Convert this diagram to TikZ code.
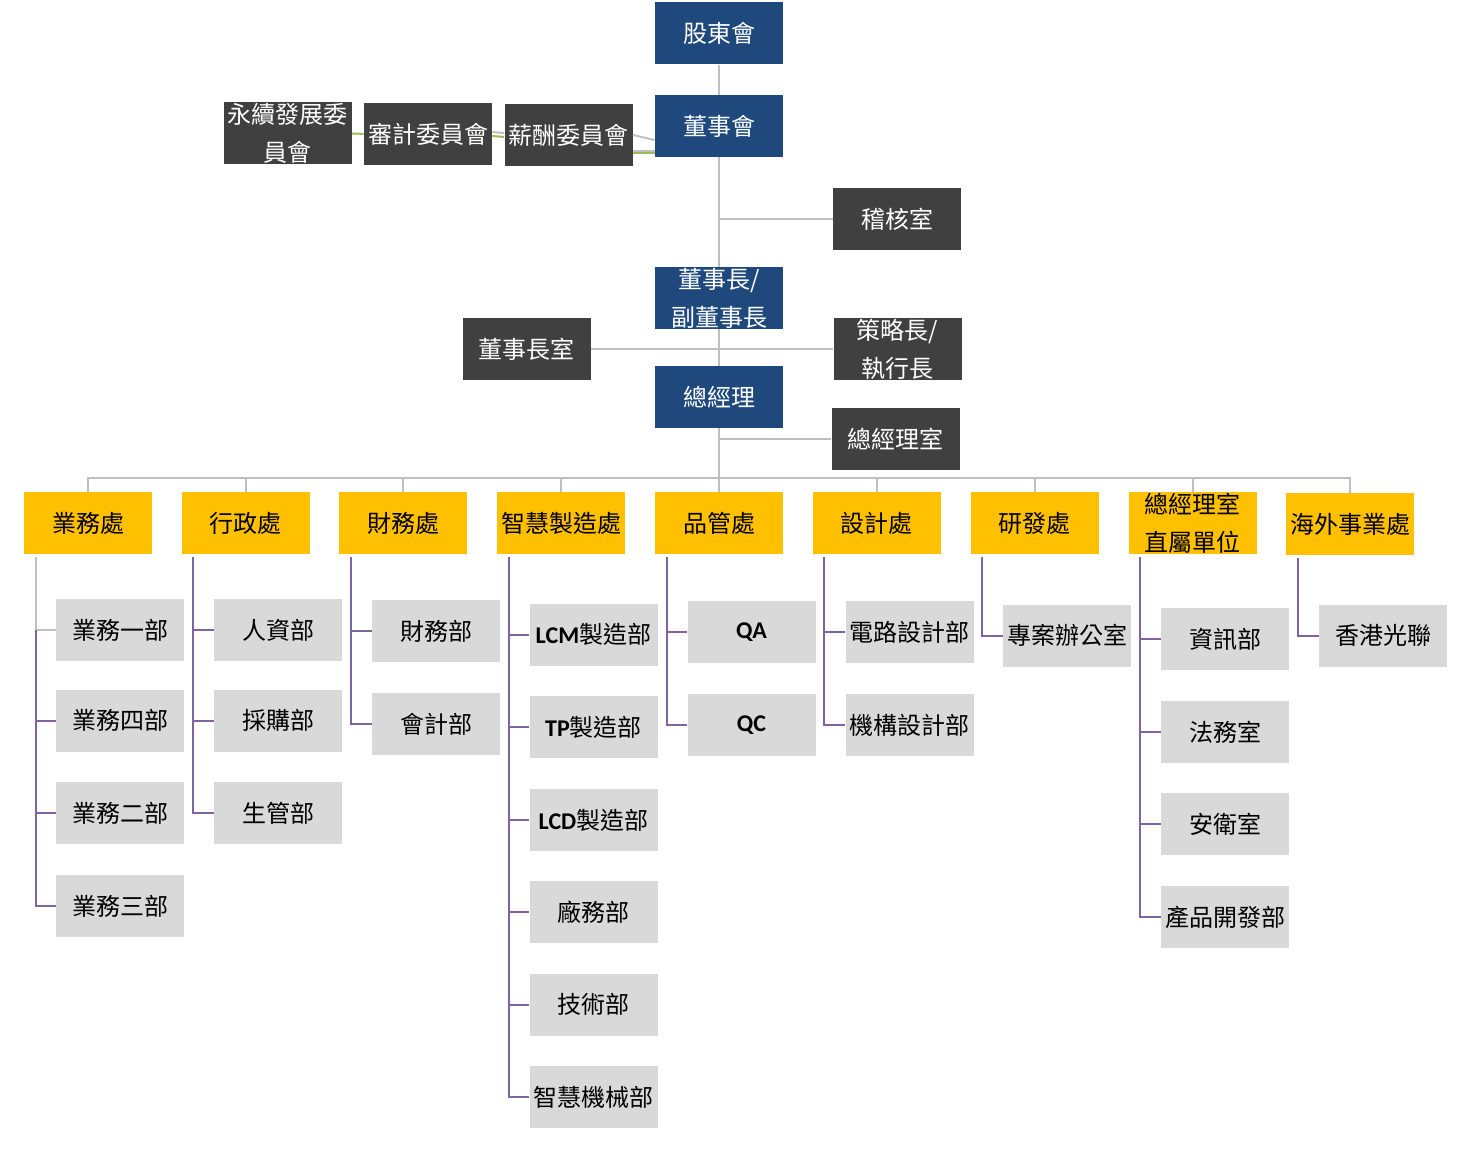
\documentclass[tikz,border=0pt]{standalone}
\usepackage{fontspec}
\setmainfont{Noto Sans CJK TC}
\newfontfamily\calib{Carlito}
\definecolor{topblue}{HTML}{1F497D}
\definecolor{darkbox}{HTML}{404040}
\definecolor{headyellow}{HTML}{FFC000}
\definecolor{unitgray}{HTML}{D9D9D9}
\definecolor{linegray}{HTML}{BFBFBF}
\definecolor{subpurple}{HTML}{8064A2}
\definecolor{commgreen}{HTML}{9BBB59}
\begin{document}
\begin{tikzpicture}[x=0.5pt,y=-0.5pt,
	box/.style={minimum width=64pt,minimum height=31pt,inner sep=0pt,align=center,font=\fontsize{12}{19}\selectfont},
	top/.style={box,fill=topblue,text=white},
	side/.style={box,fill=darkbox,text=white},
	head/.style={box,fill=headyellow},
	unit/.style={box,fill=unitgray},
	link/.style={draw=linegray,line width=1pt},
	sub/.style={draw=subpurple,line width=1pt},
	comm/.style={draw=commgreen,line width=1pt}]
	\useasboundingbox (0,0) rectangle (1477,1149);
	% board and management
	\node[top] (gdh) at (719,33.5) {股東會};
	\node[top] (dsh) at (719,126) {董事會};
	\node[top] (dsz) at (719,298) {董事長/\\副董事長};
	\node[top] (zjl) at (719,397) {總經理};
	\node[side] (yx) at (287.5,133.5) {永續發展委\\員會};
	\node[side] (sjw) at (428,134) {審計委員會};
	\node[side] (xcw) at (568.5,135) {薪酬委員會};
	\node[side] (jhs) at (897,219) {稽核室};
	\node[side] (dszs) at (526.5,349) {董事長室};
	\node[side] (clz) at (897.5,349) {策略長/\\執行長};
	\node[side] (zjls) at (895.5,439) {總經理室};
	% divisions
	\node[head] (yw) at (88,523) {業務處};
	\node[head] (xz) at (245.5,523) {行政處};
	\node[head] (cw) at (403,523) {財務處};
	\node[head] (zh) at (561,523) {智慧製造處};
	\node[head] (pg) at (719,523) {品管處};
	\node[head] (sjc) at (876.5,523) {設計處};
	\node[head] (yf) at (1034.5,523) {研發處};
	\node[head] (zs) at (1192.5,523) {總經理室\\直屬單位};
	\node[head] (hw) at (1350,524) {海外事業處};
	% departments
	\node[unit] (yw1) at (120,630) {業務一部};
	\node[unit] (yw4) at (120,720.5) {業務四部};
	\node[unit] (yw2) at (120,813) {業務二部};
	\node[unit] (yw3) at (120,906) {業務三部};
	\node[unit] (xz1) at (278,630) {人資部};
	\node[unit] (xz2) at (278,720.5) {採購部};
	\node[unit] (xz3) at (278,813) {生管部};
	\node[unit] (cw1) at (436,631) {財務部};
	\node[unit] (cw2) at (436,724) {會計部};
	\node[unit] (zh1) at (593.5,634.5) {{\calib\bfseries LCM}製造部};
	\node[unit] (zh2) at (593.5,727) {{\calib\bfseries TP}製造部};
	\node[unit] (zh3) at (593.5,820) {{\calib\bfseries LCD}製造部};
	\node[unit] (zh4) at (593.5,912) {廠務部};
	\node[unit] (zh5) at (593.5,1004.5) {技術部};
	\node[unit] (zh6) at (593.5,1097) {智慧機械部};
	\node[unit] (pg1) at (751.5,632) {\calib\bfseries QA};
	\node[unit] (pg2) at (751.5,725) {\calib\bfseries QC};
	\node[unit] (sjc1) at (909.5,632) {電路設計部};
	\node[unit] (sjc2) at (909.5,725) {機構設計部};
	\node[unit] (yf1) at (1067,635.5) {專案辦公室};
	\node[unit] (zs1) at (1225,639) {資訊部};
	\node[unit] (zs2) at (1225,732) {法務室};
	\node[unit] (zs3) at (1225,824) {安衛室};
	\node[unit] (zs4) at (1225,917) {產品開發部};
	\node[unit] (hw1) at (1383,635.5) {香港光聯};
	% committees
	\draw[comm] (yx) -- (sjw);
	\draw[link] ([yshift=1pt]sjw.east) -- ([yshift=1pt]xcw.west);
	\draw[comm] ([yshift=-1pt]sjw.east) -- ([yshift=-1pt]xcw.west);
	\draw[link] (xcw.east) -- ([yshift=-7pt]dsh.west);
	\draw[link] ([yshift=-8pt]xcw.east) -- ([yshift=-12.5pt]dsh.west);
	\draw[comm] ([yshift=-9pt]xcw.east) -- ([yshift=-13.5pt]dsh.west);
	% main line
	\draw[link] (gdh) -- (dsh);
	\draw[link] (dsh) -- (dsz);
	\draw[link] (jhs.west) -- (jhs.west -| dsh.south);
	\draw[link] (dsz) -- (zjl);
	\draw[link] (dszs) -- (clz);
	\draw[link] (zjls.west) -- (zjls.west -| zjl.south);
	\coordinate (bus) at (719,478);
	\draw[link] (zjl) -- (bus);
	\foreach \h in {yw,xz,cw,zh,pg,sjc,yf,zs,hw}
		\draw[link] (bus) -| (\h.north);
	% department lines
	\coordinate (ywL) at ([xshift=6pt,yshift=-1.5pt]yw.south west);
	\draw[link] (ywL) |- (yw1.west);
	\foreach \c in {yw4,yw2,yw3}
		\draw[sub] (ywL |- yw1.west) |- (\c.west);
	\coordinate (xzL) at ([xshift=6pt,yshift=-1.5pt]xz.south west);
	\foreach \c in {xz1,xz2,xz3}
		\draw[sub] (xzL) |- (\c.west);
	\coordinate (cwL) at ([xshift=6pt,yshift=-1.5pt]cw.south west);
	\foreach \c in {cw1,cw2}
		\draw[sub] (cwL) |- (\c.west);
	\coordinate (zhL) at ([xshift=6pt,yshift=-1.5pt]zh.south west);
	\foreach \c in {zh1,zh2,zh3,zh4,zh5,zh6}
		\draw[sub] (zhL) |- (\c.west);
	\coordinate (pgL) at ([xshift=6pt,yshift=-1.5pt]pg.south west);
	\foreach \c in {pg1,pg2}
		\draw[sub] (pgL) |- (\c.west);
	\coordinate (sjcL) at ([xshift=6pt,yshift=-1.5pt]sjc.south west);
	\foreach \c in {sjc1,sjc2}
		\draw[sub] (sjcL) |- (\c.west);
	\coordinate (yfL) at ([xshift=6pt,yshift=-1.5pt]yf.south west);
	\draw[sub] (yfL) |- (yf1.west);
	\coordinate (zsL) at ([xshift=6pt,yshift=-1.5pt]zs.south west);
	\foreach \c in {zs1,zs2,zs3,zs4}
		\draw[sub] (zsL) |- (\c.west);
	\coordinate (hwL) at ([xshift=6pt,yshift=-1.5pt]hw.south west);
	\draw[sub] (hwL) |- (hw1.west);
\end{tikzpicture}
\end{document}
